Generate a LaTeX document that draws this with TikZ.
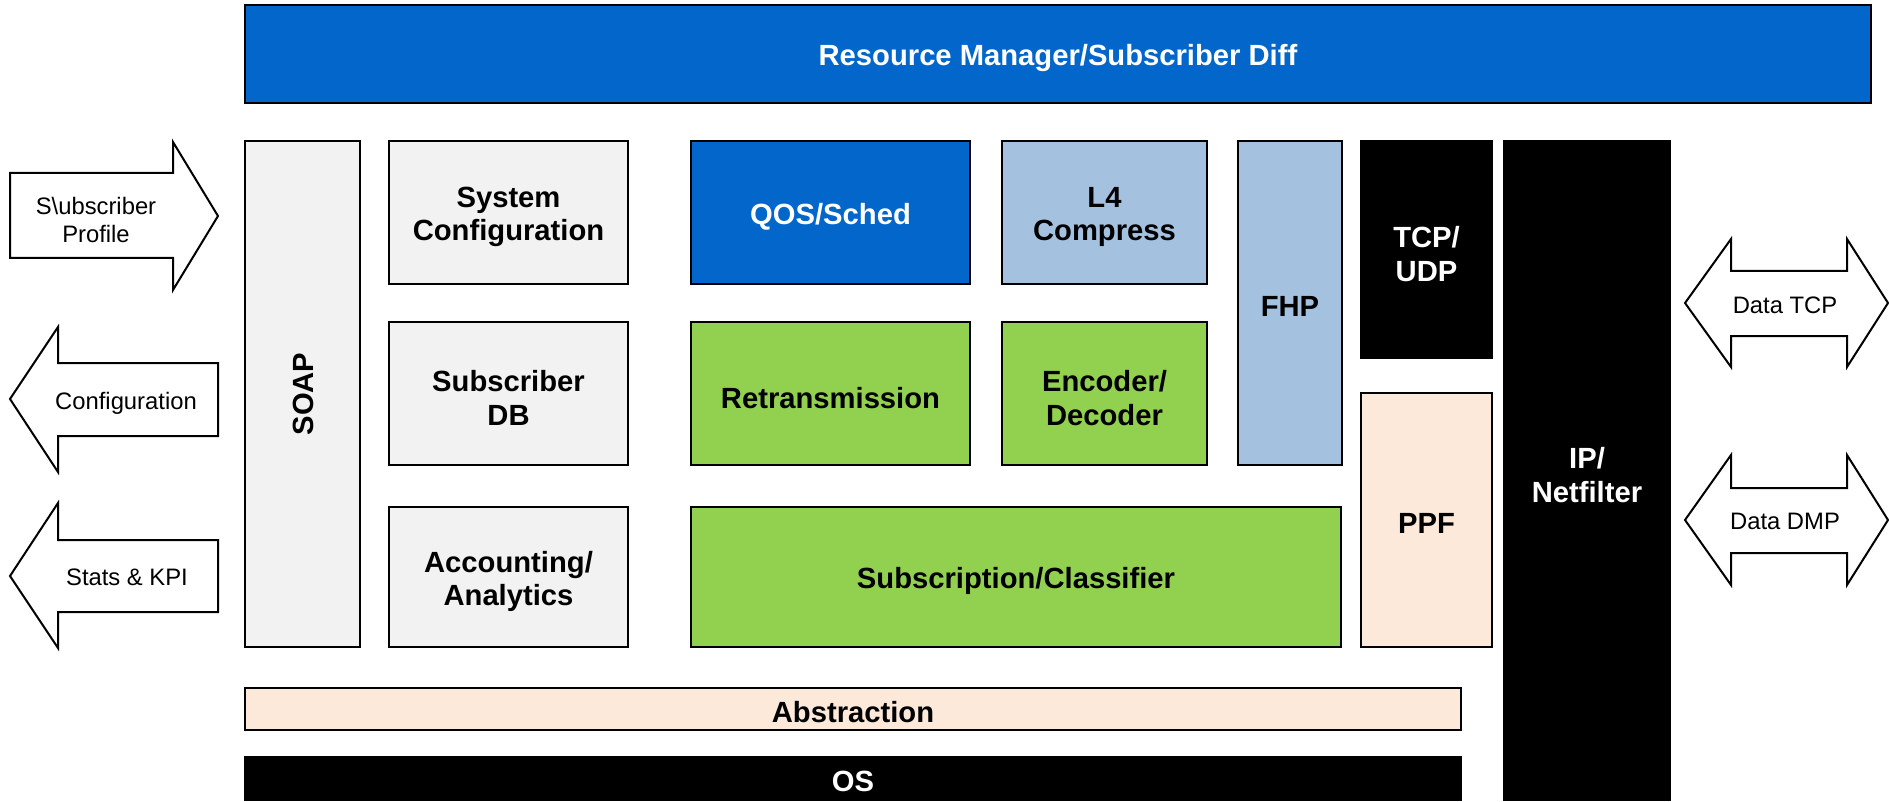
\documentclass[tikz,border=0pt]{standalone}
\usepackage{fontspec}
\setmainfont{Liberation Sans}
\definecolor{rmblue}{HTML}{0366CB}
\definecolor{ltblue}{HTML}{A4C2E0}
\definecolor{grn}{HTML}{92D050}
\definecolor{gry}{HTML}{F2F2F2}
\definecolor{peach}{HTML}{FCE9DA}
\begin{document}
\begin{tikzpicture}[x=0.5pt,y=-0.5pt,
  box/.style={draw=black, line width=1.2pt, inner sep=0pt},
  txt/.style={align=center, inner sep=0pt,
    font=\bfseries\fontsize{14.6}{16.8}\selectfont},
  wtxt/.style={txt, text=white},
  arr/.style={draw=black, line width=1pt, fill=white, line join=miter},
  lbl/.style={align=center, inner sep=0pt, font=\fontsize{11.9}{13.6}\selectfont}]
\useasboundingbox (0,0) rectangle (1889,802);
% top bar
\node[box, fill=rmblue, minimum width=813pt, minimum height=49pt] (rm) at (1058,54) {};
\node[wtxt] (rm-t) at ([yshift=-1.8pt]rm.center) {Resource Manager/Subscriber Diff};
% left column
\node[box, fill=gry, minimum width=57.5pt, minimum height=253pt] (soap) at (302.5,394) {};
\node[txt] (soap-t) at ([xshift=0.5pt]soap.center) {\rotatebox{90}{SOAP}};
\node[box, fill=gry, minimum width=119.5pt, minimum height=71.5pt] (syscfg) at (508.5,212.5) {};
\node[txt] (syscfg-t) at ([yshift=-2.2pt]syscfg.center) {System\\Configuration};
\node[box, fill=gry, minimum width=119.5pt, minimum height=71.5pt] (subdb) at (508.5,393.5) {};
\node[txt] (subdb-t) at ([yshift=-2.2pt]subdb.center) {Subscriber\\DB};
\node[box, fill=gry, minimum width=119.5pt, minimum height=70pt] (acct) at (508.5,577) {};
\node[txt] (acct-t) at ([yshift=-2.2pt]acct.center) {Accounting/\\Analytics};
% middle
\node[box, fill=rmblue, minimum width=139.5pt, minimum height=71.5pt] (qos) at (830.5,212.5) {};
\node[wtxt] (qos-t) at ([yshift=-2.2pt]qos.center) {QOS/Sched};
\node[box, fill=grn, minimum width=139.5pt, minimum height=71.5pt] (retx) at (830.5,393.5) {};
\node[txt] (retx-t) at ([yshift=-2.2pt]retx.center) {Retransmission};
\node[box, fill=ltblue, minimum width=102.5pt, minimum height=71.5pt] (l4) at (1104.5,212.5) {};
\node[txt] (l4-t) at ([yshift=-2.2pt]l4.center) {L4\\Compress};
\node[box, fill=grn, minimum width=102.5pt, minimum height=71.5pt] (enc) at (1104.5,393.5) {};
\node[txt] (enc-t) at ([yshift=-2.2pt]enc.center) {Encoder/\\Decoder};
\node[box, fill=grn, minimum width=325pt, minimum height=70pt] (subcls) at (1016,577) {};
\node[txt] (subcls-t) at ([yshift=-2.2pt]subcls.center) {Subscription/Classifier};
% right
\node[box, fill=ltblue, minimum width=52pt, minimum height=162pt] (fhp) at (1290,303) {};
\node[txt] (fhp-t) at ([yshift=-1.5pt]fhp.center) {FHP};
\node[box, fill=black, minimum width=65.5pt, minimum height=108.5pt] (tcp) at (1426.5,249.5) {};
\node[wtxt] (tcp-t) at ([yshift=-2.2pt]tcp.center) {TCP/\\UDP};
\node[box, fill=peach, minimum width=65.5pt, minimum height=127pt] (ppf) at (1426.5,520) {};
\node[txt] (ppf-t) at ([yshift=-1.5pt]ppf.center) {PPF};
\node[box, fill=black, minimum width=83pt, minimum height=329.5pt] (ip) at (1587,470.5) {};
\node[wtxt] (ip-t) at ([yshift=-2.2pt]ip.center) {IP/\\Netfilter};
% bottom bars
\node[box, fill=peach, minimum width=608pt, minimum height=21pt] (abs) at (853,709) {};
\node[txt] (abs-t) at ([yshift=-1.5pt]abs.center) {Abstraction};
\node[box, fill=black, minimum width=608pt, minimum height=21.5pt] (os) at (853,778.5) {};
\node[wtxt] (os-t) at ([yshift=-1.5pt]os.center) {OS};
% left arrows
\draw[arr] (10,173) -- (173,173) -- (173,142) -- (218,216) -- (173,290) -- (173,258) -- (10,258) -- cycle;
\node[lbl] (sp) at (96,220) {S\textbackslash ubscriber\\Profile};
\draw[arr] (10,399) -- (58,327) -- (58,363) -- (218,363) -- (218,436) -- (58,436) -- (58,472) -- cycle;
\node[lbl] (cfg) at (126,403) {Configuration};
\draw[arr] (10,576) -- (58,503) -- (58,540) -- (218,540) -- (218,612) -- (58,612) -- (58,648) -- cycle;
\node[lbl] (kpi) at (127,577) {Stats \& KPI};
% right double arrows
\draw[arr] (1685,303) -- (1731,239) -- (1731,271) -- (1847,271) -- (1847,239) -- (1888,303) -- (1847,367) -- (1847,336) -- (1731,336) -- (1731,367) -- cycle;
\node[lbl] (dtcp) at (1785,305) {Data TCP};
\draw[arr] (1685,520) -- (1731,455) -- (1731,488) -- (1847,488) -- (1847,455) -- (1888,520) -- (1847,585) -- (1847,553) -- (1731,553) -- (1731,585) -- cycle;
\node[lbl] (ddmp) at (1785,521) {Data DMP};
\end{tikzpicture}
\end{document}
